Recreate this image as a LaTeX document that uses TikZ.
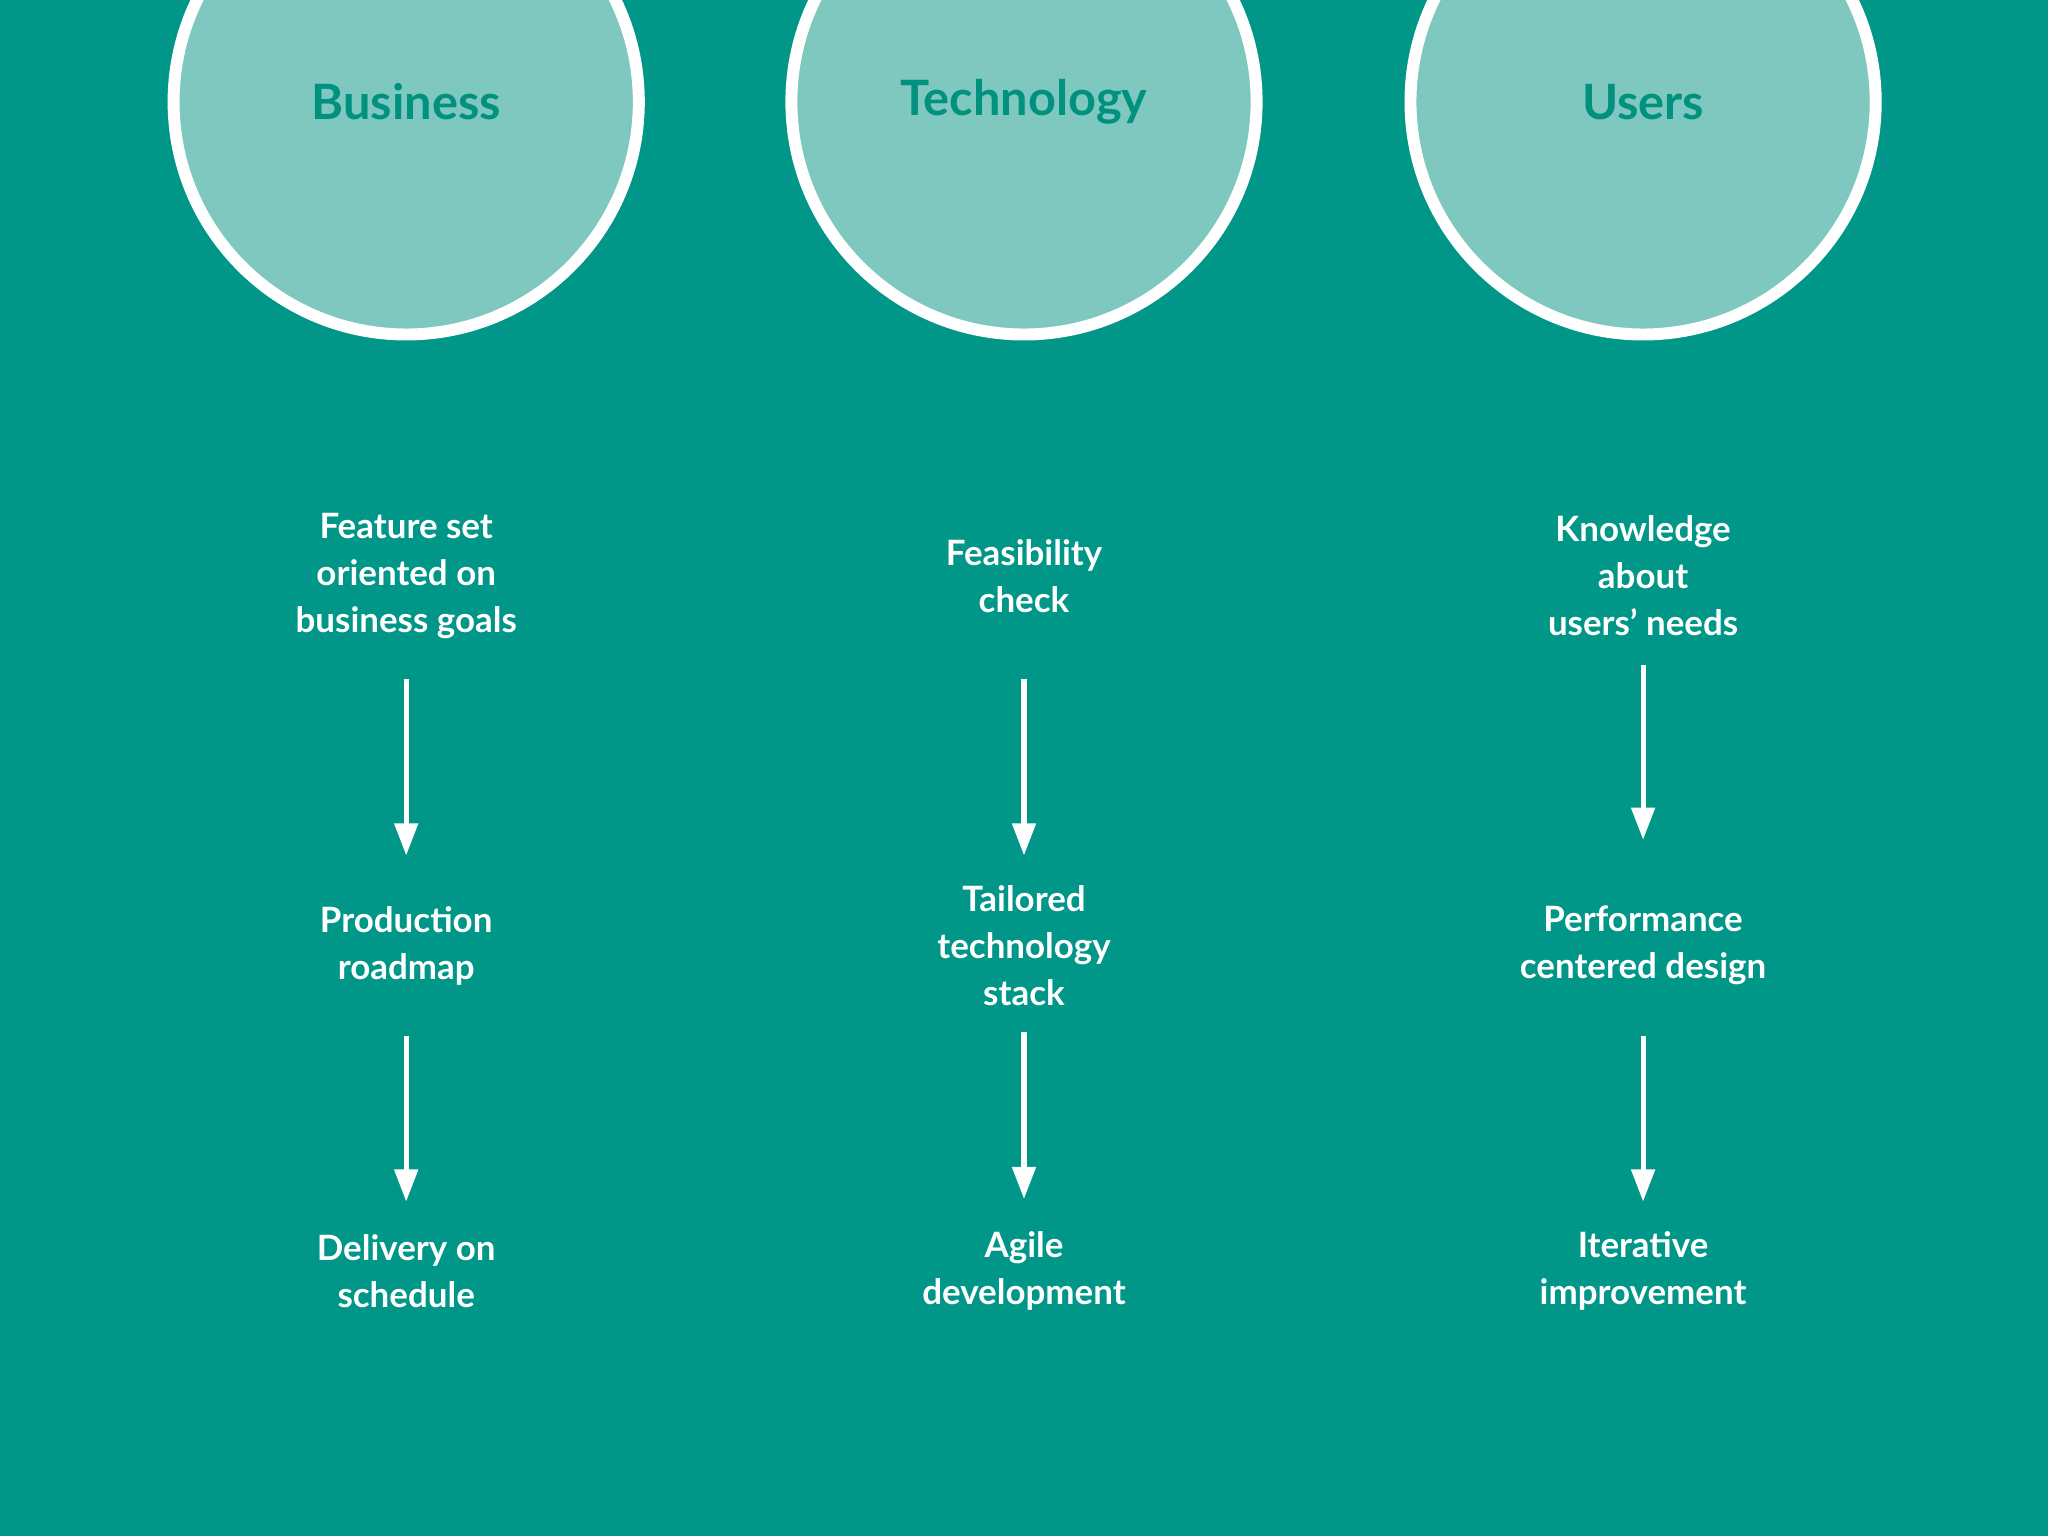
\documentclass[tikz,border=0pt]{standalone}
\usepackage{fontspec}
\setmainfont{Lato}
\usetikzlibrary{arrows.meta}
\definecolor{bg}{HTML}{009688}
\definecolor{circ}{HTML}{7FC8C0}
\definecolor{ttl}{HTML}{00917F}
\begin{document}
\begin{tikzpicture}[x=0.01cm,y=-0.01cm,
  circ/.style={circle,draw=white,line width=2.6pt,fill=circ,minimum size=3.56cm,inner sep=0pt},
  ttl/.style={text=ttl,font=\bfseries\fontsize{10.6}{13}\selectfont},
  lbl/.style={text=white,align=center,font=\bfseries\fontsize{7.6}{10.2}\selectfont},
  arr/.style={draw=white,line width=1.1pt,-{Triangle[width=5pt,length=7pt]}}]
\fill[bg] (0,0) rectangle (1568,1176);
\useasboundingbox (0,0) rectangle (1568,1176);
\foreach \n/\x/\t in {b/311/Business,t/784/Technology,u/1258/Users}{
  \node[circ] (c\n) at (\x,78) {};
  \node[ttl] (t\n) at (\x,78) {\t};
}
\node[lbl] (b1) at (311,441) {Feature set\\oriented on\\business goals};
\node[lbl] (b2) at (311,724) {Production\\roadmap};
\node[lbl] (b3) at (311,973) {Delivery on\\schedule};
\node[lbl] (t1) at (784,441) {Feasibility\\check};
\node[lbl] (t2) at (784,724) {Tailored\\technology\\stack};
\node[lbl] (t3) at (784,973) {Agile\\development};
\node[lbl] (u1) at (1258,441) {Knowledge\\about\\users’ needs};
\node[lbl] (u2) at (1258,724) {Performance\\centered design};
\node[lbl] (u3) at (1258,973) {Iterative\\improvement};
\coordinate (b1s) at (311,520); \coordinate (b1e) at (311,655);
\coordinate (b2s) at (311,793); \coordinate (b2e) at (311,920);
\coordinate (t1s) at (784,520); \coordinate (t1e) at (784,655);
\coordinate (t2s) at (784,790); \coordinate (t2e) at (784,918);
\coordinate (u1s) at (1258,509); \coordinate (u1e) at (1258,643);
\coordinate (u2s) at (1258,793); \coordinate (u2e) at (1258,920);
\foreach \a in {b1,b2,t1,t2,u1,u2}{\draw[arr] (\a s) -- (\a e);}
\end{tikzpicture}
\end{document}
